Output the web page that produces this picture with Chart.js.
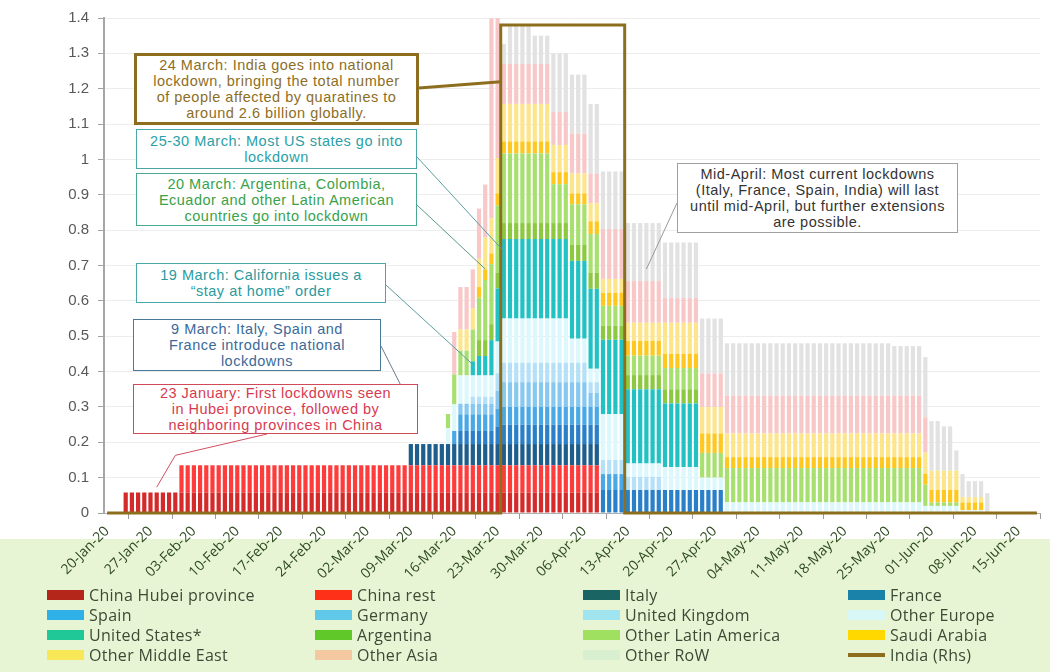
<!DOCTYPE html>
<html>
<head>
<meta charset="utf-8">
<title>Population under lockdown</title>
<script src="https://cdn.jsdelivr.net/npm/chart.js@4.4.1/dist/chart.umd.min.js"></script>
<style>
  html, body { margin: 0; padding: 0; background: #fff; }
  #wrap { position: relative; width: 1050px; height: 672px; overflow: hidden; }
  #band { position: absolute; left: 0; top: 539px; width: 1050px; height: 133px; background: #e8f5d5; }
  #chart { position: absolute; left: 0; top: 0; }
  .note { position: absolute; box-sizing: border-box; background: #fff; display: flex; align-items: center;
          justify-content: center; text-align: center; font-family: "Liberation Sans", Arial, sans-serif;
          font-size: 14.5px; line-height: 16px; letter-spacing: 0.5px; }
  #legend { position: absolute; left: 0; top: 585px; width: 1050px; height: 80px;
            font-family: "Open Sans", sans-serif; font-size: 16px; letter-spacing: 0.3px; color: #3b4a35; }
  .item { position: absolute; height: 20px; display: flex; align-items: center; white-space: nowrap; }
  .sw { width: 37px; height: 10px; margin-right: 5px; }
  .swline { width: 37px; height: 4px; margin-right: 5px; }
</style>
</head>
<body>
<div id="wrap">
  <div id="band"></div>
  <canvas id="chart" width="1050" height="672"></canvas>

  <div class="note" style="left:134px;top:53px;width:285px;height:72px;border:3px solid #8d6e1f;color:#8d6e1f;">
    24 March: India goes into national<br>lockdown, bringing the total number<br>of people affected by quaratines to<br>around 2.6 billion globally.</div>
  <div class="note" style="left:136px;top:129px;width:281px;height:40px;border:1px solid #4aa6a8;color:#2aa0a6;">
    25-30 March: Most US states go into<br>lockdown</div>
  <div class="note" style="left:136px;top:173px;width:281px;height:53px;border:1px solid #4aa890;color:#3aa24a;">
    20 March: Argentina, Colombia,<br>Ecuador and other Latin American<br>countries go into lockdown</div>
  <div class="note" style="left:136px;top:263px;width:250px;height:40px;border:1px solid #4aa6a8;color:#2a9a9e;">
    19 March: California issues a<br>“stay at home” order</div>
  <div class="note" style="left:133px;top:319px;width:248px;height:52px;border:1px solid #4a7a9a;color:#3a6a9a;">
    9 March: Italy, Spain and<br>France introduce national<br>lockdowns</div>
  <div class="note" style="left:133px;top:384px;width:285px;height:50px;border:1px solid #d04a5a;color:#d83a50;">
    23 January: First lockdowns seen<br>in Hubei province, followed by<br>neighboring provinces in China</div>
  <div class="note" style="left:677px;top:163px;width:281px;height:70px;border:1px solid #a0a0a0;color:#333;">
    Mid-April: Most current lockdowns<br>(Italy, France, Spain, India) will last<br>until mid-April, but further extensions<br>are possible.</div>

  <div id="legend"></div>
</div>

<script>
// one category per day, 20-Jan-20 to 18-Jun-20
var dayCount = 151;
var monthNames = ['Jan', 'Feb', 'Mar', 'Apr', 'May', 'Jun'];
var dayLabels = [];
for (var i = 0; i < dayCount; i++) {
    var d = new Date(2020, 0, 20 + i);
    dayLabels.push(String(d.getDate()).padStart(2, '0') + '-' + monthNames[d.getMonth()] + '-20');
}

// weekly tick labels shown under the axis
var tickLabels = ['20-Jan-20', '27-Jan-20', '03-Feb-20', '10-Feb-20', '17-Feb-20', '24-Feb-20', '02-Mar-20',
    '09-Mar-20', '16-Mar-20', '23-Mar-20', '30-Mar-20', '06-Apr-20', '13-Apr-20', '20-Apr-20', '27-Apr-20',
    '04-May-20', '11-May-20', '18-May-20', '25-May-20', '01-Jun-20', '08-Jun-20', '15-Jun-20'];

// people in lockdown, billions. each entry: [first day, last day, value]
var hubei = [['23-Jan', '08-Apr', 0.058]];
var chinaRest = [['01-Feb', '08-Apr', 0.077]];
var italy = [['09-Mar', '08-Apr', 0.06]];
var france = [['17-Mar', '22-Mar', 0.037], ['23-Mar', '23-Mar', 0.05], ['24-Mar', '08-Apr', 0.055], ['09-Apr', '28-Apr', 0.065]];
var spain = [['16-Mar', '16-Mar', 0.037], ['17-Mar', '22-Mar', 0.047], ['23-Mar', '08-Apr', 0.05], ['09-Apr', '12-Apr', 0.045]];
var germany = [['17-Mar', '22-Mar', 0.03], ['23-Mar', '23-Mar', 0.05], ['24-Mar', '06-Apr', 0.07], ['07-Apr', '08-Apr', 0.04]];
var unitedKingdom = [['19-Mar', '22-Mar', 0.02], ['23-Mar', '23-Mar', 0.05], ['24-Mar', '06-Apr', 0.055], ['07-Apr', '08-Apr', 0.03],
    ['09-Apr', '12-Apr', 0.04], ['13-Apr', '18-Apr', 0.037]];
var otherEurope = [['15-Mar', '15-Mar', 0.045], ['16-Mar', '16-Mar', 0.075], ['17-Mar', '18-Mar', 0.08], ['19-Mar', '22-Mar', 0.06],
    ['23-Mar', '23-Mar', 0.09], ['24-Mar', '03-Apr', 0.125], ['04-Apr', '06-Apr', 0.068], ['07-Apr', '08-Apr', 0.038],
    ['09-Apr', '12-Apr', 0.13], ['13-Apr', '18-Apr', 0.038], ['19-Apr', '24-Apr', 0.065], ['25-Apr', '28-Apr', 0.035],
    ['29-Apr', '30-May', 0.03], ['31-May', '05-Jun', 0.02], ['06-Jun', '09-Jun', 0.008]];
var unitedStates = [['19-Mar', '19-Mar', 0.04], ['20-Mar', '21-Mar', 0.055], ['22-Mar', '22-Mar', 0.1], ['23-Mar', '23-Mar', 0.15],
    ['24-Mar', '03-Apr', 0.225], ['04-Apr', '06-Apr', 0.22], ['07-Apr', '08-Apr', 0.226], ['09-Apr', '18-Apr', 0.21],
    ['19-Apr', '24-Apr', 0.18]];
var argentina = [['20-Mar', '08-Apr', 0.045], ['09-Apr', '24-Apr', 0.04]];
var otherLatAm = [['15-Mar', '15-Mar', 0.04], ['16-Mar', '16-Mar', 0.085], ['17-Mar', '18-Mar', 0.07], ['19-Mar', '19-Mar', 0.09],
    ['20-Mar', '20-Mar', 0.12], ['21-Mar', '22-Mar', 0.17], ['23-Mar', '23-Mar', 0.19], ['24-Mar', '31-Mar', 0.197],
    ['01-Apr', '03-Apr', 0.11], ['04-Apr', '06-Apr', 0.115], ['07-Apr', '08-Apr', 0.11], ['09-Apr', '12-Apr', 0.056],
    ['13-Apr', '18-Apr', 0.055], ['19-Apr', '24-Apr', 0.06], ['25-Apr', '28-Apr', 0.07], ['29-Apr', '30-May', 0.097],
    ['31-May', '31-May', 0.06], ['01-Jun', '05-Jun', 0.01]];
var saudiArabia = [['20-Mar', '22-Mar', 0.03], ['23-Mar', '03-Apr', 0.034], ['04-Apr', '06-Apr', 0.031], ['07-Apr', '08-Apr', 0.036],
    ['09-Apr', '12-Apr', 0.037], ['13-Apr', '18-Apr', 0.042], ['19-Apr', '24-Apr', 0.04], ['25-Apr', '28-Apr', 0.055],
    ['29-Apr', '31-May', 0.031], ['01-Jun', '05-Jun', 0.035], ['06-Jun', '09-Jun', 0.022]];
var otherMiddleEast = [['17-Mar', '19-Mar', 0.06], ['20-Mar', '20-Mar', 0.08], ['21-Mar', '21-Mar', 0.09], ['22-Mar', '23-Mar', 0.1],
    ['24-Mar', '31-Mar', 0.106], ['01-Apr', '03-Apr', 0.077], ['04-Apr', '06-Apr', 0.056], ['07-Apr', '08-Apr', 0.051],
    ['09-Apr', '12-Apr', 0.039], ['13-Apr', '18-Apr', 0.051], ['19-Apr', '24-Apr', 0.088], ['25-Apr', '28-Apr', 0.075],
    ['29-Apr', '30-May', 0.067], ['31-May', '31-May', 0.06], ['01-Jun', '05-Jun', 0.055], ['06-Jun', '09-Jun', 0.015]];
var otherAsia = [['16-Mar', '18-Mar', 0.12], ['19-Mar', '19-Mar', 0.11], ['20-Mar', '20-Mar', 0.142], ['21-Mar', '21-Mar', 0.15],
    ['22-Mar', '22-Mar', 0.565], ['23-Mar', '23-Mar', 0.396], ['24-Mar', '31-Mar', 0.113], ['01-Apr', '03-Apr', 0.093],
    ['04-Apr', '06-Apr', 0.113], ['07-Apr', '08-Apr', 0.084], ['09-Apr', '12-Apr', 0.141], ['13-Apr', '18-Apr', 0.118],
    ['19-Apr', '24-Apr', 0.07], ['25-Apr', '28-Apr', 0.095], ['29-Apr', '30-May', 0.107], ['31-May', '31-May', 0.1]];
var otherRoW = [['24-Mar', '24-Mar', 0.057], ['25-Mar', '28-Mar', 0.11], ['29-Mar', '31-Mar', 0.08], ['01-Apr', '03-Apr', 0.166],
    ['04-Apr', '06-Apr', 0.167], ['07-Apr', '08-Apr', 0.197], ['09-Apr', '12-Apr', 0.163], ['13-Apr', '18-Apr', 0.164],
    ['19-Apr', '24-Apr', 0.157], ['25-Apr', '28-Apr', 0.155], ['29-Apr', '25-May', 0.148], ['26-May', '30-May', 0.14],
    ['31-May', '31-May', 0.17], ['01-Jun', '02-Jun', 0.14], ['03-Jun', '04-Jun', 0.125], ['05-Jun', '05-Jun', 0.057],
    ['06-Jun', '06-Jun', 0.065], ['07-Jun', '09-Jun', 0.045], ['10-Jun', '10-Jun', 0.056]];
// India on the (hidden) right hand axis
var india = [['24-Mar', '12-Apr', 1.38]];

var seriesNames = ['China Hubei province', 'China rest', 'Italy', 'France', 'Spain', 'Germany', 'United Kingdom',
    'Other Europe', 'United States*', 'Argentina', 'Other Latin America', 'Saudi Arabia', 'Other Middle East',
    'Other Asia', 'Other RoW'];
var seriesRuns = [hubei, chinaRest, italy, france, spain, germany, unitedKingdom, otherEurope, unitedStates,
    argentina, otherLatAm, saudiArabia, otherMiddleEast, otherAsia, otherRoW];
// colours as the bars look in the picture
var barColors = ['#d42a2a', '#ff3c3c', '#1d5e8c', '#2a80c8', '#4aa8e6', '#86c8f0', '#b4e0f8', '#ddf8fd',
    '#22c2c4', '#8cc840', '#a8e070', '#ffc81e', '#fde58c', '#f8c8c8', '#e2e2e2'];
// colours of the legend swatches
var legendColors = ['#b4261a', '#ff3018', '#1a6464', '#1a82a8', '#30b0e8', '#60c8e8', '#a0e4f0', '#d8f8f8',
    '#20c898', '#60c828', '#a0e060', '#ffd800', '#f8e858', '#f4c8a0', '#d8f0d0'];
var indiaColor = '#8d6e1f';

function dayIndex(s) {
    return dayLabels.indexOf(s + '-20');
}

function expand(runs) {
    var arr = [];
    for (var i = 0; i < dayCount; i++) arr.push(0);
    runs.forEach(function (r) {
        for (var j = dayIndex(r[0]); j <= dayIndex(r[1]); j++) arr[j] = r[2];
    });
    return arr;
}

var datasets = [];
seriesNames.forEach(function (name, k) {
    datasets.push({
        type: 'bar',
        label: name,
        data: expand(seriesRuns[k]),
        backgroundColor: barColors[k],
        borderWidth: 0,
        barPercentage: 0.68,
        categoryPercentage: 1.0,
        stack: 'all',
        order: 1
    });
});
datasets.push({
    type: 'line',
    label: 'India (Rhs)',
    data: expand(india),
    yAxisID: 'y2',
    borderColor: indiaColor,
    borderWidth: 3,
    pointRadius: 0,
    stepped: 'middle',
    fill: false,
    clip: false,
    order: 0
});

// callout leader lines: box side in pixels, chart side as [day, value, shift in days]
var leaders = [
    {color: '#8d6e1f', width: 3, pts: [[419, 88], ['24-Mar', 1.22, -0.5]]},
    {color: '#5a9ea0', width: 1, pts: [[417, 157], ['24-Mar', 0.74, 0]]},
    {color: '#5a9a80', width: 1, pts: [[417, 205], ['21-Mar', 0.69, 0]]},
    {color: '#5a9ea0', width: 1, pts: [[386, 285], ['19-Mar', 0.42, 0]]},
    {color: '#6a7a8a', width: 1, pts: [[381, 346], ['10-Mar', 0.27, 0]]},
    {color: '#d05060', width: 1, pts: [[267, 434], ['31-Jan', 0.163, 0], ['28-Jan', 0.073, 0]]},
    {color: '#999999', width: 1, pts: [[677, 203], ['16-Apr', 0.69, 0]]}
];

var leaderPlugin = {
    id: 'leaders',
    afterDatasetsDraw: function (chart) {
        var ctx = chart.ctx, xs = chart.scales.x, ys = chart.scales.y;
        ctx.save();
        leaders.forEach(function (l) {
            ctx.beginPath();
            ctx.strokeStyle = l.color;
            ctx.lineWidth = l.width;
            l.pts.forEach(function (p, n) {
                var px, py;
                if (typeof p[0] === 'string') {
                    px = xs.getPixelForValue(dayIndex(p[0]) + p[2]);
                    py = ys.getPixelForValue(p[1]);
                } else {
                    px = p[0];
                    py = p[1];
                }
                if (n === 0) ctx.moveTo(px, py); else ctx.lineTo(px, py);
            });
            ctx.stroke();
        });
        ctx.restore();
    }
};

new Chart(document.getElementById('chart'), {
    data: {labels: dayLabels, datasets: datasets},
    plugins: [leaderPlugin],
    options: {
        responsive: false,
        animation: false,
        layout: {padding: {left: 0, right: 10, top: 16, bottom: 0}},
        plugins: {legend: {display: false}, tooltip: {enabled: false}},
        scales: {
            x: {
                stacked: true,
                offset: true,
                grid: {drawOnChartArea: false, tickLength: 6, tickColor: '#9a9a9a', offset: true},
                border: {color: '#b0b0b0'},
                ticks: {
                    autoSkip: false,
                    minRotation: 45,
                    maxRotation: 45,
                    padding: 4,
                    color: '#2d4a1f',
                    font: {family: '"Open Sans", sans-serif', size: 14},
                    callback: function (value) {
                        var lab = this.getLabelForValue(value);
                        return tickLabels.indexOf(lab) >= 0 ? lab : null;
                    }
                },
                afterFit: function (scale) { scale.height = 159; }
            },
            y: {
                stacked: true,
                min: 0,
                max: 1.4,
                grid: {color: '#ededed', tickLength: 6, tickColor: '#a0a0a0'},
                border: {color: '#a6a6a6', width: 2},
                ticks: {
                    stepSize: 0.1,
                    padding: 9,
                    color: '#595959',
                    font: {family: '"Liberation Sans", Arial, sans-serif', size: 15},
                    callback: function (v) { return String(Math.round(v * 10) / 10); }
                },
                afterFit: function (scale) { scale.width = 104; }
            },
            y2: {display: false, min: 0, max: 1.4}
        }
    }
});

// legend in four columns, like the original
var legendItems = seriesNames.map(function (n, k) { return {name: n, color: legendColors[k], line: false}; });
legendItems.push({name: 'India (Rhs)', color: indiaColor, line: true});
var colLeft = [47, 315, 583, 848];
var legendBox = document.getElementById('legend');
legendItems.forEach(function (it, k) {
    var div = document.createElement('div');
    div.className = 'item';
    div.style.left = colLeft[k % 4] + 'px';
    div.style.top = (Math.floor(k / 4) * 20) + 'px';
    var sw = document.createElement('span');
    sw.className = it.line ? 'swline' : 'sw';
    sw.style.background = it.color;
    var tx = document.createElement('span');
    tx.textContent = it.name;
    div.appendChild(sw);
    div.appendChild(tx);
    legendBox.appendChild(div);
});
</script>
</body>
</html>
